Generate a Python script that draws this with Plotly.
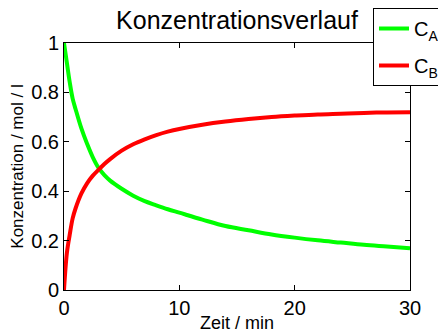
import plotly.graph_objects as go

t = [0, 0.25, 0.5, 0.75, 1, 1.5, 2, 2.5, 3, 3.5, 4, 5, 6, 7, 8, 9, 10, 12, 14, 16, 18, 20, 22, 24, 26, 28, 30]
c_a = [1.0, 0.92, 0.84, 0.775, 0.733, 0.655, 0.592, 0.537, 0.494, 0.465, 0.443, 0.41, 0.382, 0.36, 0.343, 0.327,
       0.313, 0.285, 0.259, 0.242, 0.225, 0.212, 0.201, 0.192, 0.183, 0.176, 0.169]
c_b = [0.0, 0.15, 0.225, 0.29, 0.33, 0.39, 0.432, 0.463, 0.487, 0.51, 0.53, 0.564, 0.59, 0.61, 0.627, 0.641,
       0.652, 0.669, 0.682, 0.692, 0.70, 0.706, 0.711, 0.714, 0.717, 0.719, 0.72]

x_ticks = [0, 10, 20, 30]
y_ticks = [0, 0.2, 0.4, 0.6, 0.8, 1]
y_tick_labels = ["0", "0.2", "0.4", "0.6", "0.8", "1"]

fig = go.Figure()
fig.add_trace(go.Scatter(x=t, y=c_a, mode="lines", name="C<sub>A</sub>", legendgroup="a",
                         line=dict(color="#00ff00", width=4, shape="spline", smoothing=1.0)))
fig.add_trace(go.Scatter(x=t, y=c_b, mode="lines", name="C<sub>B</sub>", legendgroup="b",
                         line=dict(color="#ff0000", width=4, shape="spline", smoothing=1.0)))

# The page body adds an 8px offset; the figure is sized to fill the rest of the window.
W, H = 438, 325
L, R, T, B = 56, 36, 35, 43
font = "Liberation Sans, Arial, sans-serif"
fig.update_layout(
    width=W, height=H,
    margin=dict(l=L, r=R, t=T, b=B, autoexpand=False),
    paper_bgcolor="white", plot_bgcolor="white",
    font=dict(family=font, color="black", size=20),
    title=dict(text="Konzentrationsverlauf", x=229 / W, xanchor="center", y=1 - 12 / H, yanchor="middle",
               font=dict(size=25, family=font, color="black")),
    showlegend=True,
    legend=dict(x=(365 - L) / (W - L - R), xanchor="left", y=(H - B) / (H - T - B), yanchor="top",
                bgcolor="white", bordercolor="black", borderwidth=1,
                font=dict(size=20, family=font, color="black"), itemwidth=30,
                tracegroupgap=8),
    xaxis=dict(range=[0, 30], tickvals=x_ticks, ticks="inside", ticklen=5, tickcolor="black",
               showline=True, linecolor="black", linewidth=1, mirror="allticks", showgrid=False,
               zeroline=False, tickfont=dict(size=20),
               title=dict(text="Zeit / min", font=dict(size=18), standoff=0)),
    yaxis=dict(range=[0, 1], tickvals=y_ticks, ticktext=y_tick_labels, ticks="inside", ticklen=5,
               tickcolor="black", showline=True, linecolor="black", linewidth=1, mirror="allticks",
               showgrid=False, zeroline=False, tickfont=dict(size=20),
               title=dict(text="Konzentration / mol / l", font=dict(size=17), standoff=4)),
)

fig.write_html("out.html")
